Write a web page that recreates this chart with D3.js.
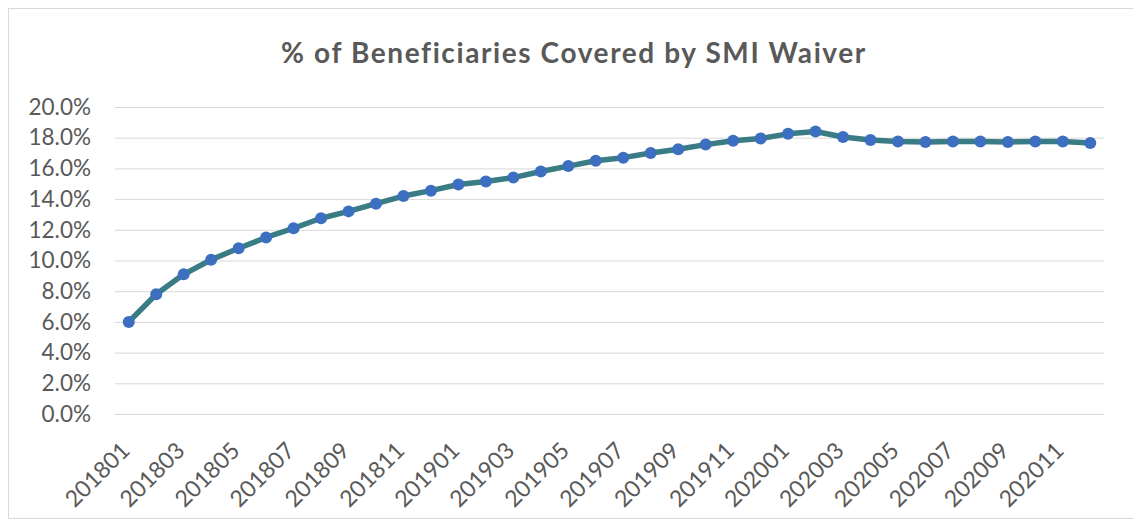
<!DOCTYPE html>
<html><head><meta charset="utf-8">
<script src="https://cdn.jsdelivr.net/npm/d3@7"></script>
<style>body{margin:0;background:#fff}svg{display:block}</style>
</head><body>
<svg id="c" width="1133" height="523"></svg>
<script>
const title = "% of Beneficiaries Covered by SMI Waiver";
const months = ["201801","201802","201803","201804","201805","201806","201807","201808","201809","201810","201811","201812",
"201901","201902","201903","201904","201905","201906","201907","201908","201909","201910","201911","201912",
"202001","202002","202003","202004","202005","202006","202007","202008","202009","202010","202011","202012"];
const values = [6.0,7.8,9.1,10.05,10.8,11.5,12.1,12.75,13.2,13.7,14.2,14.55,
14.95,15.15,15.4,15.8,16.15,16.5,16.7,17.0,17.25,17.55,17.8,17.95,
18.25,18.4,18.05,17.85,17.75,17.72,17.75,17.75,17.72,17.75,17.75,17.65];
const yTicks = [0,2,4,6,8,10,12,14,16,18,20];

const svg = d3.select("#c");
const m={left:115,right:1104,top:107,bottom:414};
const FONT = "Lato, 'Open Sans', sans-serif";
svg.append("rect").attr("x",8.5).attr("y",8.5).attr("width",1150).attr("height",510)
  .attr("fill","#fff").attr("stroke","#d9d9d9");

const x = d3.scalePoint().domain(months).range([m.left,m.right]).padding(0.5);
const y = d3.scaleLinear().domain([0,20]).range([m.bottom,m.top]);

svg.append("text").attr("x",574).attr("y",63).attr("text-anchor","middle")
  .attr("font-family",FONT).attr("font-weight","bold").attr("font-size",28)
  .attr("letter-spacing",1.6).attr("fill","#595959").text(title);

const gy = svg.append("g").attr("transform",`translate(${m.left},0)`)
  .call(d3.axisLeft(y).tickValues(yTicks).tickSize(-(m.right-m.left)).tickFormat(d=>d.toFixed(1)+"%"));
gy.select(".domain").remove();
gy.selectAll(".tick line").attr("stroke","#d9d9d9").attr("stroke-width",1);
gy.selectAll(".tick text").attr("x",-24).attr("fill","#595959").attr("font-size",22.5)
  .attr("font-family",FONT);

const gx = svg.append("g").attr("transform",`translate(0,${m.bottom})`)
  .call(d3.axisBottom(x).tickValues(months.filter((d,i)=>i%2===0)).tickSize(0));
gx.select(".domain").remove();
gx.selectAll(".tick text").attr("fill","#595959").attr("font-size",23)
  .attr("font-family",FONT)
  .attr("text-anchor","end").attr("dy","0").attr("y",0)
  .attr("transform","translate(2,38) rotate(-45)");

const line = d3.line().x((d,i)=>x(months[i])).y(d=>y(d));
svg.append("path").datum(values).attr("d",line).attr("fill","none")
  .attr("stroke","#3a7c84").attr("stroke-width",5.5).attr("stroke-linejoin","round");
svg.selectAll("circle.pt").data(values).join("circle").attr("class","pt")
  .attr("cx",(d,i)=>x(months[i])).attr("cy",d=>y(d)).attr("r",6).attr("fill","#3c6fbf");
</script>
</body></html>
